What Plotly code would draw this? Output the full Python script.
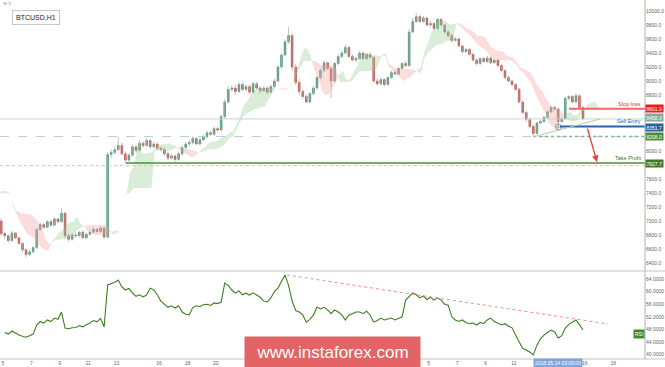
import numpy as np
import plotly.graph_objects as go

# ---------------- data (6-hour candles, x in days since 5 Apr 2018 00:00) ----------------
first_open = 7300
closes = [
    7350, 7420, 7480, 7430,   # Apr 3 (off-screen history)
    7400, 7350, 7000, 6820,   # Apr 4 (off-screen history)
    6790, 6720, 6830, 6760,   # Apr 5
    6680, 6590, 6520, 6560,
    6620, 6880, 6950, 6910,
    6990, 6940, 7030, 6990,
    7110, 6790, 6740, 6800,
    6790, 6840, 6760, 6810,
    6840, 6880, 6850, 6900,
    6770, 7950, 7980, 8020,
    8080, 7960, 7870, 7940,
    8060, 8010, 8110, 8080,
    8150, 8060, 8100, 8040,
    8020, 7960, 7900, 7930,
    7880, 7960, 8050, 8100,
    8120, 8180, 8100, 8160,
    8200, 8260, 8240, 8320,
    8300, 8490, 8700, 8880,
    8900, 8850, 8950, 8880,
    8920, 8840, 8960, 8900,
    8860, 8900, 8840, 8920,
    9000, 9200, 9370, 9560,
    9650, 9200, 8980, 8850,
    8780, 8700, 8820, 8900,
    9050, 9150, 9260, 9180,
    9000, 9250, 9350, 9400,
    9480, 9350, 9300, 9320,
    9400, 9320, 9380, 9340,
    9000, 8960, 9020, 8950,
    9050, 9120, 9100, 9180,
    9250, 9220, 9700, 9850,
    9920, 9850, 9900, 9800,
    9820, 9750, 9880, 9800,
    9700, 9650, 9580, 9600,
    9500, 9420, 9450, 9380,
    9300, 9250, 9320, 9280,
    9330, 9260, 9300, 9220,
    9150, 9050, 9000, 8950,
    8880, 8700, 8550, 8450,
    8350, 8250, 8400, 8420,
    8480, 8560, 8620, 8600,
    8420, 8460, 8750, 8780,
    8700, 8790, 8620, 8458.3,
]
highs = [
    7380, 7450, 7510, 7500,
    7450, 7430, 7370, 7040,
    6850, 6810, 6860, 6840,
    6770, 6700, 6610, 6590,
    6640, 6900, 6980, 6970,
    7010, 7020, 7060, 7050,
    7180, 7130, 6820, 6830,
    6830, 6860, 6870, 6830,
    6870, 6910, 6900, 6930,
    6920, 7980, 8020, 8070,
    8200, 8120, 7990, 7970,
    8090, 8090, 8160, 8140,
    8190, 8170, 8130, 8120,
    8070, 8050, 7990, 7960,
    7950, 7990, 8080, 8130,
    8150, 8210, 8200, 8190,
    8230, 8290, 8290, 8350,
    8350, 8520, 8740, 8930,
    8940, 8950, 8990, 8980,
    8950, 8950, 8990, 8990,
    8920, 8930, 8920, 8950,
    9030, 9230, 9400, 9590,
    9770, 9680, 9250, 9030,
    8880, 8810, 8840, 8930,
    9080, 9180, 9290, 9280,
    9200, 9270, 9380, 9430,
    9520, 9500, 9380, 9350,
    9430, 9420, 9400, 9410,
    9360, 9040, 9050, 9040,
    9070, 9150, 9150, 9200,
    9270, 9290, 9740, 9900,
    9970, 9950, 9930, 9920,
    9860, 9840, 9900, 9900,
    9810, 9730, 9670, 9630,
    9620, 9520, 9470, 9470,
    9400, 9320, 9340, 9340,
    9360, 9350, 9320, 9310,
    9240, 9170, 9080, 9020,
    8970, 8900, 8720, 8580,
    8470, 8380, 8420, 8450,
    8500, 8580, 8640, 8650,
    8620, 8470, 8780, 8800,
    8800, 8820, 8810, 8640,
]
lows = [
    7280, 7330, 7400, 7410,
    7380, 7330, 6980, 6780,
    6740, 6690, 6700, 6740,
    6660, 6560, 6480, 6500,
    6540, 6600, 6860, 6890,
    6900, 6920, 6930, 6970,
    6980, 6750, 6700, 6720,
    6760, 6770, 6740, 6740,
    6790, 6820, 6830, 6830,
    6740, 6750, 7900, 7950,
    8000, 7930, 7820, 7850,
    7920, 7980, 7990, 8050,
    8060, 8030, 8040, 8010,
    7990, 7930, 7870, 7880,
    7840, 7860, 7940, 8020,
    8070, 8100, 8080, 8080,
    8140, 8180, 8210, 8220,
    8270, 8280, 8470, 8680,
    8850, 8800, 8830, 8860,
    8860, 8810, 8820, 8880,
    8820, 8840, 8800, 8820,
    8900, 8980, 9170, 9350,
    9530, 9150, 8940, 8800,
    8740, 8680, 8680, 8800,
    8880, 9020, 9120, 9160,
    8760, 8980, 9220, 9320,
    9380, 9330, 9280, 9270,
    9300, 9300, 9300, 9320,
    8970, 8930, 8940, 8920,
    8930, 9030, 9080, 9080,
    9160, 9190, 9200, 9680,
    9830, 9830, 9830, 9780,
    9770, 9720, 9730, 9780,
    9680, 9620, 9550, 9560,
    9480, 9390, 9400, 9360,
    9280, 9220, 9230, 9260,
    9260, 9240, 9240, 9200,
    9130, 9030, 8980, 8920,
    8860, 8680, 8520, 8420,
    8330, 8200, 8230, 8380,
    8400, 8460, 8540, 8580,
    8380, 8390, 8440, 8720,
    8680, 8690, 8600, 8440,
]
history_candles = 8

# lower-panel oscillator, one value per candle from 5 Apr
osc = [
    47.0, 46.5, 47.5, 46.8,
    46.2, 45.8, 45.5, 46.0,
    46.5, 49.4, 50.5, 50.0,
    51.0, 50.5, 51.6, 51.2,
    53.5, 48.4, 48.2, 48.5,
    48.6, 49.2, 48.8, 49.5,
    50.0, 50.8, 50.4, 51.5,
    48.8, 62.1, 62.5, 63.0,
    63.7, 61.5, 60.5, 61.0,
    59.5, 58.5, 59.0, 58.3,
    59.0, 61.1, 60.5, 59.0,
    57.0, 56.0, 55.0, 55.5,
    54.8, 55.5, 53.5, 52.8,
    52.6, 55.0, 55.5, 55.2,
    55.8, 56.0, 55.6, 56.4,
    56.2, 56.7, 62.7, 62.0,
    60.5, 59.5, 60.2, 59.0,
    59.5, 58.9, 59.6, 58.9,
    58.2, 57.0, 56.7, 58.0,
    60.0, 61.1, 63.0, 65.3,
    62.0, 57.0, 54.0, 53.5,
    52.6, 50.3, 51.2, 52.5,
    55.1, 54.5, 55.0, 54.2,
    53.0, 54.2, 53.5, 52.6,
    51.0, 52.5, 53.0, 53.5,
    53.5, 53.0, 53.8, 52.5,
    50.3, 50.8, 51.6, 51.0,
    51.3, 51.6, 51.0, 51.5,
    52.0, 57.3, 58.5, 59.6,
    59.0, 58.0, 58.6, 57.5,
    58.2, 57.3, 58.0, 57.3,
    56.0, 55.7, 52.0, 51.0,
    50.5, 51.0, 50.2, 49.8,
    50.0, 49.4, 50.2, 49.8,
    51.0, 51.6, 50.5, 50.0,
    49.4, 49.8, 49.0, 48.5,
    46.0, 44.0, 42.0, 41.5,
    40.8, 39.9, 43.0, 45.0,
    46.2, 47.0, 47.8, 47.2,
    45.3, 46.0, 48.4, 49.6,
    50.3, 51.0, 49.5, 47.8,
]

tick_days = [0, 2, 4, 6, 8, 11, 13, 15, 18, 20, 22, 24, 26, 28, 30, 32, 34, 36, 41, 43]
tick_text = ["5", "7", "9", "11", "13", "16", "18", "20", "23", "25", "27", "29", "May",
             "3", "5", "7", "9", "11", "16", "18"]

price_ticks = list(range(6400, 10001, 200))
hidden_price_ticks = [8600, 8400, 8200, 7800]   # covered by the level boxes
osc_ticks = list(range(40, 65, 4))

stop_loss = 8601.9
last_price = 8458.3
sell_entry = 8351.7
support = 8208.0
take_profit = 7827.7
orange_level = 7790.0
cursor_day = 39.125
cursor_text = "2018.05.14 03:00:00"

# ---------------- geometry helpers ----------------
W, H = 665, 367
PX_PER_DAY = 14.19
X0_PX = 3.0
AX_PX = 645.0
def day_of_px(px):
    return (px - X0_PX) / PX_PER_DAY
x_range = [day_of_px(0), day_of_px(AX_PX)]
main_top_px, main_bot_px = 0, 271
low_top_px, low_bot_px = 271, 359
def py_to_paper(py):
    return (H - py) / H
def price_of_py(py):
    return 10000 - (py - 11) * 200 / 14
def osc_of_py(py):
    return 64 - (py - 279) / 3.15

FONT = "Liberation Sans, Arial, sans-serif"

n = len(closes)
opens = [first_open] + closes[:-1]
cx = np.array([(i - history_candles) / 4 + 0.125 for i in range(n)])
hi = np.maximum(np.array(highs, float), np.maximum(opens, closes))
lo = np.minimum(np.array(lows, float), np.minimum(opens, closes))

# Ichimoku cloud from the candles (periods in 6h candles), shifted 26 hours
def midline(p):
    out = []
    for i in range(n):
        s = max(0, i - p + 1)
        out.append((hi[s:i + 1].max() + lo[s:i + 1].min()) / 2)
    return np.array(out)
tenkan = midline(2)
kijun = midline(4)
spanA = (tenkan + kijun) / 2
spanB = midline(9)
kx = cx + 26 / 24

def cloud_traces(xs, a, b):
    runs = []
    rx, ra, rb = [xs[0]], [a[0]], [b[0]]
    sign = a[0] >= b[0]
    for j in range(1, len(xs)):
        s = a[j] >= b[j]
        if s != sign:
            d0 = a[j - 1] - b[j - 1]
            d1 = a[j] - b[j]
            t = d0 / (d0 - d1)
            xi = xs[j - 1] + t * (xs[j] - xs[j - 1])
            yi = a[j - 1] + t * (a[j] - a[j - 1])
            rx.append(xi); ra.append(yi); rb.append(yi)
            runs.append((rx, ra, rb, sign))
            rx, ra, rb = [xi], [yi], [yi]
            sign = s
        rx.append(xs[j]); ra.append(a[j]); rb.append(b[j])
    runs.append((rx, ra, rb, sign))
    out = []
    for want, col in [(True, "rgba(150,205,150,0.36)"), (False, "rgba(246,160,160,0.36)")]:
        X, Y = [], []
        for rx, ra, rb, sg in runs:
            if sg == want and len(rx) > 1:
                X += list(rx) + list(rx[::-1]) + [None]
                Y += list(ra) + list(rb[::-1]) + [None]
        out.append(go.Scatter(x=X, y=Y, fill="toself", fillcolor=col, mode="none",
                              hoverinfo="skip", showlegend=False, xaxis="x", yaxis="y"))
    return out

fig = go.Figure()
for tr in cloud_traces(kx, spanA, spanB):
    fig.add_trace(tr)

# wicks
wx, wy = [], []
for i in range(n):
    wx += [cx[i], cx[i], None]
    wy += [lo[i], hi[i], None]
fig.add_trace(go.Scatter(x=wx, y=wy, mode="lines", line=dict(color="#b0b0b0", width=0.8),
                         hoverinfo="skip", showlegend=False, xaxis="x", yaxis="y"))
# bodies
body_hi = np.maximum(opens, closes)
body_lo = np.minimum(opens, closes)
fig.add_trace(go.Candlestick(
    x=cx, open=opens, high=body_hi, low=body_lo, close=closes,
    increasing=dict(line=dict(color="#3f8e6c", width=0.6), fillcolor="#3f8e6c"),
    decreasing=dict(line=dict(color="#b8433b", width=0.6), fillcolor="#b8433b"),
    whiskerwidth=0, showlegend=False, hoverinfo="skip", xaxis="x", yaxis="y"))

# crosshair marker
fig.add_trace(go.Scatter(x=[cursor_day], y=[price_of_py(127)], mode="markers",
                         marker=dict(symbol="circle-cross-open", size=6, color="#9a9a9a", line=dict(width=1)),
                         hoverinfo="skip", showlegend=False, xaxis="x", yaxis="y"))

# oscillator
ox = cx[history_candles:]
fig.add_trace(go.Scatter(x=ox, y=osc, mode="lines", line=dict(color="#3f7d22", width=1.1),
                         hoverinfo="skip", showlegend=False, xaxis="x", yaxis="y2"))

shapes = []
xr1 = x_range[1]
def hline(y0, x0, color, width, dash="solid", yref="y"):
    shapes.append(dict(type="line", xref="x", yref=yref, x0=x0, x1=xr1, y0=y0, y1=y0,
                       line=dict(color=color, width=width, dash=dash)))

hline(orange_level, x_range[0], "#f2c27c", 1, "dot")
hline(support, x_range[0], "#b5cde0", 1, "dash")
hline(last_price, x_range[0], "#c3d8d1", 1)
hline(take_profit, day_of_px(126), "#4f8f2f", 1.5)
hline(support, day_of_px(533), "#86bb7e", 1.5, "dot")
hline(sell_entry, day_of_px(560), "#2c63a8", 2)
hline(stop_loss, day_of_px(569), "#ff6464", 2)
shapes.append(dict(type="line", xref="x", yref="y", x0=day_of_px(533), y0=price_of_py(137),
                   x1=day_of_px(600), y1=price_of_py(119), line=dict(color="#a9d3a0", width=1)))
shapes.append(dict(type="line", xref="x", yref="y2", x0=day_of_px(287), y0=osc_of_py(275),
                   x1=day_of_px(608), y1=osc_of_py(324), line=dict(color="#f28c8c", width=1, dash="dot")))
shapes.append(dict(type="line", xref="paper", yref="paper", x0=AX_PX / W, x1=AX_PX / W,
                   y0=py_to_paper(low_bot_px), y1=1, line=dict(color="#b0b0b0", width=1)))
shapes.append(dict(type="line", xref="paper", yref="paper", x0=0, x1=1,
                   y0=py_to_paper(271), y1=py_to_paper(271), line=dict(color="#c4c4c4", width=1)))
shapes.append(dict(type="line", xref="paper", yref="paper", x0=0, x1=1,
                   y0=py_to_paper(359), y1=py_to_paper(359), line=dict(color="#c4c4c4", width=1)))

ann = []
box_x = 654 / W
def level_box(y, text, bg, yshift=0):
    ann.append(dict(xref="paper", yref="y", x=box_x, y=y, text=text, showarrow=False,
                    font=dict(family=FONT, size=5, color="white"), bgcolor=bg, borderpad=0.5,
                    xanchor="center", yanchor="middle", yshift=yshift))
def level_text(y, text, color):
    ann.append(dict(xref="paper", yref="y", x=643 / W, y=y, text=text, showarrow=False,
                    font=dict(family=FONT, size=5.5, color=color), xanchor="right",
                    yanchor="bottom", yshift=0))

level_text(stop_loss, "Stop loss", "#ee3030")
level_text(sell_entry, "Sell Entry", "#2c63a8")
level_text(take_profit, "Take Profit", "#3e7a1e")
level_box(stop_loss, "%.1f" % stop_loss, "#f21818")
level_box(last_price, "%.1f" % last_price, "#85ab98", yshift=1)
level_box(sell_entry, "%.1f" % sell_entry, "#2a5fa0", yshift=-1)
level_box(support, "%.1f" % support, "#4f8c3a")
level_box(take_profit, "%.1f" % take_profit, "#3f7a2c")
ann.append(dict(xref="paper", yref="y2", x=639 / W, y=46.5, text="RSI", showarrow=False,
                font=dict(family=FONT, size=5, color="white"), bgcolor="#3f8a2e", borderpad=1,
                xanchor="center", yanchor="middle"))

ann.append(dict(xref="x", yref="y", x=day_of_px(597), y=price_of_py(162), axref="x", ayref="y",
                ax=day_of_px(587), ay=price_of_py(127), text="", showarrow=True,
                arrowcolor="#e8403a", arrowwidth=1.3, arrowhead=2, arrowsize=1))

ann.append(dict(xref="x", yref="paper", x=cursor_day, y=py_to_paper(363), text=cursor_text,
                showarrow=False, font=dict(family=FONT, size=5, color="white"), bgcolor="#7ea6dc",
                borderpad=1, xanchor="center", yanchor="middle"))

ann.append(dict(xref="paper", yref="paper", x=35.5 / W, y=py_to_paper(17.5), text="BTCUSD,H1",
                showarrow=False, font=dict(family=FONT, size=7, color="#222"), bgcolor="white",
                bordercolor="#c8c8c8", borderwidth=1, borderpad=3, xanchor="center", yanchor="middle"))
ann.append(dict(xref="paper", yref="paper", x=1 / W, y=py_to_paper(3), text="⊖ ≡", showarrow=False,
                font=dict(family=FONT, size=5, color="#999"), xanchor="left", yanchor="middle"))

ann.append(dict(xref="paper", yref="paper", x=332.5 / W, y=py_to_paper(352), text="www.instaforex.com",
                showarrow=False, font=dict(family=FONT, size=17, color="white"), bgcolor="#e26464",
                width=173, height=28, borderpad=1, xanchor="center", yanchor="middle"))

fig.update_layout(
    width=W, height=H, margin=dict(l=0, r=0, t=0, b=0),
    plot_bgcolor="white", paper_bgcolor="white", showlegend=False,
    font=dict(family=FONT, size=5, color="#666"),
    xaxis=dict(domain=[0, AX_PX / W], range=x_range, anchor="y2", showgrid=False, zeroline=False,
               tickmode="array", tickvals=tick_days, ticktext=tick_text, ticks="",
               tickfont=dict(family=FONT, size=5, color="#666"), showline=False,
               rangeslider=dict(visible=False), automargin=False, fixedrange=True),
    yaxis=dict(domain=[py_to_paper(main_bot_px), 1], range=[price_of_py(main_bot_px), price_of_py(0)],
               side="right", anchor="x", showgrid=False, zeroline=False, ticks="",
               tickmode="array", tickvals=[v for v in price_ticks if v not in hidden_price_ticks],
               ticktext=["%.1f" % v for v in price_ticks if v not in hidden_price_ticks],
               tickfont=dict(family=FONT, size=5, color="#666"), automargin=False),
    yaxis2=dict(domain=[py_to_paper(low_bot_px), py_to_paper(low_top_px)],
                range=[osc_of_py(low_bot_px), osc_of_py(low_top_px)],
                side="right", anchor="x", showgrid=False, zeroline=False, ticks="",
                tickmode="array", tickvals=osc_ticks, ticktext=["%.4f" % v for v in osc_ticks],
                tickfont=dict(family=FONT, size=5, color="#666"), automargin=False),
    shapes=shapes, annotations=ann,
)

fig.write_html("out.html")
